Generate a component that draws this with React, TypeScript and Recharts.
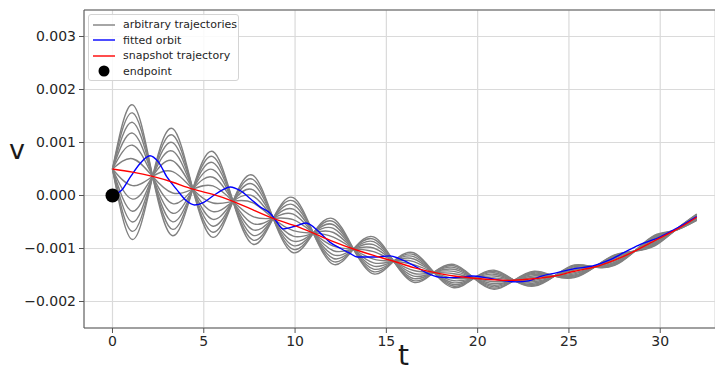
import React from 'react';
import { ComposedChart, Line, Scatter, XAxis, YAxis, CartesianGrid, ReferenceLine } from 'recharts';

// sample times: pinch points of the bundle (even index) and lobe peaks (odd index)
const gridT = [0, 1.1, 2.2, 3.3, 4.4, 5.5, 6.6, 7.7, 8.8, 9.9, 11, 12.1, 13.2, 14.3, 15.4, 16.5, 17.6, 18.7, 19.8, 20.9, 22, 23.1, 24.2, 25.3, 26.4, 27.5, 28.6, 29.7, 30.8, 32];
const snapshotV = [0.0005, 0.00044, 0.00036, 0.00025, 0.00012, 0.00002, -0.00011, -0.00027, -0.00043, -0.00056, -0.00071, -0.00087, -0.00101, -0.00113, -0.00124, -0.00136, -0.00145, -0.00152, -0.00156, -0.00159, -0.0016, -0.00157, -0.00152, -0.00143, -0.00135, -0.00122, -0.00105, -0.00085, -0.00066, -0.00041];
// how far the outermost trajectory swings away from the snapshot in each lobe
const bundleSwing = [0.00127, -0.00101, 0.00081, -0.00065, 0.00052, -0.00043, 0.00035, -0.00028, 0.00022, -0.00018, 0.00014, -0.00012, 0.0001, -0.0001, 0.00006];
// relative position of each grey trajectory inside the bundle
const trajectoryOffsets = [1, 0.88, 0.74, 0.58, 0.4, 0.2, -0.2, -0.4, -0.58, -0.74, -0.88, -1];

const fittedT = [0, 0.5, 1.0, 1.5, 2.05, 2.5, 3.0, 3.5, 4.05, 4.5, 5.0, 5.5, 6.0, 6.45, 7.0, 7.55, 8.1, 8.65, 9.0, 9.35, 10.0, 10.6, 11.35, 11.9, 12.5, 13.0, 13.4, 14.3, 15.2, 15.7, 16.6, 17.2, 17.9, 18.8, 19.7, 20.6, 21.5, 22.1, 22.8, 23.5, 24.3, 25.3, 26.3, 27.2, 28.0, 28.8, 30.0, 31.0, 32.0];
const fittedV = [0, 0.0001, 0.00036, 0.0006, 0.00075, 0.00064, 0.00034, 0.00012, -0.0001, -0.00018, -0.00013, -0.00001, 0.0001, 0.00016, 0.00009, -0.00006, -0.00022, -0.00034, -0.0005, -0.00063, -0.00058, -0.00052, -0.0007, -0.00088, -0.001, -0.00109, -0.00116, -0.00116, -0.00114, -0.00119, -0.00134, -0.00146, -0.00154, -0.00155, -0.00152, -0.00156, -0.00161, -0.00163, -0.00161, -0.00152, -0.00146, -0.00138, -0.00133, -0.00122, -0.00108, -0.00094, -0.00078, -0.0006, -0.0004];

const endpoint = [{ t: 0, v: 0 }];
const xTicks = [0, 5, 10, 15, 20, 25, 30];
const yTicks = [-0.002, -0.001, 0, 0.001, 0.002, 0.003];

const snapshotData = gridT.map((t, i) => ({ t, v: snapshotV[i] }));
const trajectories = trajectoryOffsets.map((f) =>
  gridT.map((t, i) => ({
    t,
    v: i % 2 === 0 ? snapshotV[i] : snapshotV[i] + f * bundleSwing[(i - 1) / 2],
  }))
);
const fittedData = fittedT.map((t, i) => ({ t, v: fittedV[i] }));

const FONT = '"DejaVu Sans", sans-serif';
const tickStyle = { fill: '#262626', fontSize: 14, fontFamily: FONT };

const legendItems = [
  { label: 'arbitrary trajectories', color: '#808080', dot: false },
  { label: 'fitted orbit', color: '#0000ff', dot: false },
  { label: 'snapshot trajectory', color: '#ff0000', dot: false },
  { label: 'endpoint', color: '#000000', dot: true },
];

const fmtY = (v: number) => v.toFixed(3).replace('-', '\u2212');

export default function App() {
  return (
    <div style={{ position: 'absolute', left: 0, top: 0, width: 715, height: 373, background: '#fff', fontFamily: FONT }}>
      <ComposedChart width={715} height={373} margin={{ top: 10, right: 0, bottom: 0, left: 0 }}>
        <CartesianGrid stroke="#dadada" strokeWidth={1.2} />
        <XAxis
          type="number"
          dataKey="t"
          domain={[-1.56, 33]}
          allowDataOverflow
          ticks={xTicks}
          height={45}
          tick={tickStyle}
          tickSize={5}
          tickMargin={3}
          stroke="#555"
        />
        <YAxis
          type="number"
          dataKey="v"
          domain={[-0.0025, 0.0035]}
          allowDataOverflow
          ticks={yTicks}
          width={84}
          tick={tickStyle}
          tickSize={5}
          tickMargin={3}
          tickFormatter={fmtY}
          stroke="#555"
        />
        <ReferenceLine y={0.0035} stroke="#555" />
        {trajectories.map((d, k) => (
          <Line
            key={k}
            data={d}
            dataKey="v"
            type="natural"
            stroke="#808080"
            strokeWidth={1.4}
            dot={false}
            isAnimationActive={false}
          />
        ))}
        <Line data={fittedData} dataKey="v" type="monotone" stroke="#0000ff" strokeWidth={1.4} dot={false} isAnimationActive={false} />
        <Line data={snapshotData} dataKey="v" type="natural" stroke="#ff0000" strokeWidth={1.4} dot={false} isAnimationActive={false} />
        <Scatter
          data={endpoint}
          dataKey="v"
          fill="#000"
          isAnimationActive={false}
          shape={(p: any) => <circle cx={p.cx} cy={p.cy} r={7} fill="#000" />}
        />
      </ComposedChart>

      <div
        style={{
          position: 'absolute',
          left: 88,
          top: 14,
          width: 151,
          height: 67,
          boxSizing: 'border-box',
          border: '1px solid #d4d4d4',
          borderRadius: 3,
          background: 'rgba(255,255,255,0.85)',
          padding: '2px 0 0 4px',
        }}
      >
        {legendItems.map((it) => (
          <div
            key={it.label}
            style={{ display: 'flex', alignItems: 'center', height: 15.5, fontSize: 11, color: '#262626', whiteSpace: 'nowrap' }}
          >
            <svg width={22} height={12} style={{ marginRight: 8, flexShrink: 0 }}>
              {it.dot ? (
                <circle cx={11} cy={6} r={5.5} fill={it.color} />
              ) : (
                <line x1={0} y1={6} x2={22} y2={6} stroke={it.color} strokeWidth={1.4} />
              )}
            </svg>
            <span>{it.label}</span>
          </div>
        ))}
      </div>

      <span style={{ position: 'absolute', left: 9, top: 136, fontSize: 27, color: '#1a1a1a', lineHeight: 1 }}>v</span>
      <span style={{ position: 'absolute', left: 398, top: 345, fontSize: 28, color: '#1a1a1a', lineHeight: 0.8 }}>t</span>
    </div>
  );
}
